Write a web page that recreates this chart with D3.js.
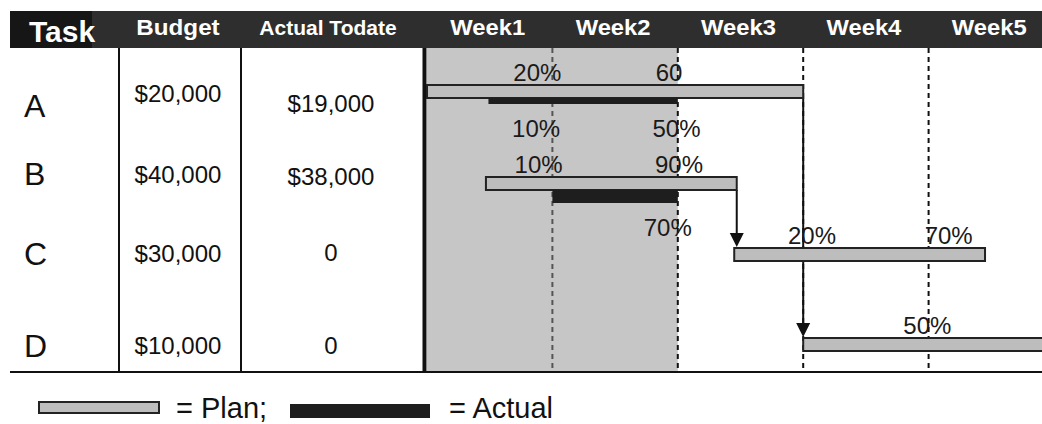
<!DOCTYPE html>
<html>
<head>
<meta charset="utf-8">
<script src="https://cdn.jsdelivr.net/npm/d3@7"></script>
<style>
	body { margin: 0; background: #fff; }
	text { font-family: "Liberation Sans", Arial, sans-serif; }
</style>
</head>
<body>
<div id="gantt"></div>
<script>
// table columns
const tasks = ['A', 'B', 'C', 'D'];
const budgets = ['$20,000', '$40,000', '$30,000', '$10,000'];
const actualTodate = ['$19,000', '$38,000', '0', '0'];
const weeks = ['Week1', 'Week2', 'Week3', 'Week4', 'Week5'];

// schedule, in weeks from the start
const planStart = [0, 0.47, 2.45, 3];
const planEnd = [3, 2.47, 4.45, 5];
const actualStart = [0.49, 1, null, null];
const actualEnd = [2, 2, null, null];
const today = 2;

// dependencies: task -> task it feeds
const links = [['A', 'D'], ['B', 'C']];

// percent complete labels (week where the label sits)
const pctTask = ['A', 'A', 'A', 'A', 'B', 'B', 'B', 'C', 'C', 'D'];
const pctKind = ['plan', 'plan', 'actual', 'actual', 'plan', 'plan', 'actual', 'plan', 'plan', 'plan'];
const pctWeek = [0.88, 1.93, 0.87, 1.99, 0.89, 2.01, 1.92, 3.07, 4.16, 3.99];
const pctText = ['20%', '60', '10%', '50%', '10%', '90%', '70%', '20%', '70%', '50%'];

const W = 1042, H = 424;
const gridTop = 48, gridBottom = 372;

const svg = d3.select('#gantt').append('svg')
	.attr('width', W)
	.attr('height', H);

const x = d3.scaleLinear().domain([0, 5]).range([427, 1054]);

// rows are not evenly spaced in the original
const barTop = d3.scaleOrdinal().domain(tasks).range([85, 177, 248, 338]);
const actualH = d3.scaleOrdinal().domain(tasks).range([6, 13, 0, 0]);
const labelY = d3.scaleOrdinal().domain(tasks).range([117, 185, 265, 357]);
const budgetY = d3.scaleOrdinal().domain(tasks).range([102, 183, 262, 354]);
const actualY = d3.scaleOrdinal().domain(tasks).range([112, 185, 261, 354]);
const barH = 13;

const planFill = '#bdbdbd';

// the scanned header type is a little wider than Arial
function widen(sel, k) {
	sel.each(function() {
		this.setAttribute('textLength', this.getComputedTextLength() * k);
		this.setAttribute('lengthAdjust', 'spacingAndGlyphs');
	});
}

// shaded elapsed period
svg.append('rect')
	.attr('x', x(0))
	.attr('y', gridTop)
	.attr('width', x(today) - x(0))
	.attr('height', gridBottom - gridTop)
	.attr('fill', '#c6c6c6');

// week grid
svg.append('g')
	.selectAll('line')
	.data(d3.range(1, 5))
	.join('line')
	.attr('x1', d => x(d))
	.attr('x2', d => x(d))
	.attr('y1', gridTop)
	.attr('y2', gridBottom)
	.attr('stroke', d => d < today ? '#555' : '#111')
	.attr('stroke-width', 2)
	.attr('stroke-dasharray', '5,4');

// header bar
svg.append('rect')
	.attr('x', 10).attr('y', 11)
	.attr('width', W - 10).attr('height', gridTop - 11)
	.attr('fill', '#2e2e2e');
svg.append('rect')
	.attr('x', 10).attr('y', 11)
	.attr('width', 82).attr('height', gridTop - 11)
	.attr('fill', '#161616');

const header = svg.append('g')
	.attr('fill', '#fff')
	.attr('font-weight', 'bold');
header.append('text')
	.attr('x', 29).attr('y', 42)
	.attr('font-size', 30)
	.text('Task');
header.append('text')
	.attr('x', 178).attr('y', 35)
	.attr('text-anchor', 'middle')
	.attr('font-size', 22)
	.text('Budget')
	.call(widen, 1.1);
header.append('text')
	.attr('x', 328).attr('y', 35)
	.attr('text-anchor', 'middle')
	.attr('font-size', 21)
	.text('Actual Todate');
header.selectAll('.week')
	.data(weeks)
	.join('text')
	.attr('class', 'week')
	.attr('x', (d, i) => x(i + 0.5) - 2)
	.attr('y', 35)
	.attr('text-anchor', 'middle')
	.attr('font-size', 22)
	.text(d => d)
	.call(widen, 1.08);

// table lines
const rules = svg.append('g').attr('stroke', '#111');
[119, 241].forEach(cx => {
	rules.append('line')
		.attr('x1', cx).attr('x2', cx)
		.attr('y1', gridTop).attr('y2', gridBottom)
		.attr('stroke-width', 2);
});
rules.append('line')
	.attr('x1', 424.5).attr('x2', 424.5)
	.attr('y1', gridTop).attr('y2', gridBottom)
	.attr('stroke-width', 4);
rules.append('line')
	.attr('x1', 10).attr('x2', W)
	.attr('y1', gridBottom).attr('y2', gridBottom)
	.attr('stroke-width', 2);

// table cells
const cells = svg.append('g').attr('fill', '#111');
cells.selectAll('.task')
	.data(tasks)
	.join('text')
	.attr('class', 'task')
	.attr('x', 24)
	.attr('y', d => labelY(d))
	.attr('font-size', 32)
	.text(d => d);
cells.selectAll('.budget')
	.data(budgets)
	.join('text')
	.attr('class', 'budget')
	.attr('x', 178)
	.attr('y', (d, i) => budgetY(tasks[i]))
	.attr('text-anchor', 'middle')
	.attr('font-size', 24)
	.text(d => d);
cells.selectAll('.actual')
	.data(actualTodate)
	.join('text')
	.attr('class', 'actual')
	.attr('x', 331)
	.attr('y', (d, i) => actualY(tasks[i]))
	.attr('text-anchor', 'middle')
	.attr('font-size', 24)
	.text(d => d);

// dependency arrows
const arrows = svg.append('g').attr('stroke', '#111').attr('fill', '#111');
links.forEach(([from, to]) => {
	const i = tasks.indexOf(from);
	const ax = x(planEnd[i]);
	const y0 = barTop(from) + barH;
	const y1 = barTop(to) - 1;
	arrows.append('line')
		.attr('x1', ax).attr('x2', ax)
		.attr('y1', y0).attr('y2', y1 - 10)
		.attr('stroke-width', 2);
	arrows.append('path')
		.attr('stroke', 'none')
		.attr('d', `M${ax - 7},${y1 - 14}L${ax + 7},${y1 - 14}L${ax},${y1}Z`);
});

// plan bars
svg.append('g')
	.selectAll('rect')
	.data(tasks)
	.join('rect')
	.attr('x', (d, i) => x(planStart[i]))
	.attr('y', d => barTop(d))
	.attr('width', (d, i) => x(planEnd[i]) - x(planStart[i]))
	.attr('height', barH)
	.attr('fill', planFill)
	.attr('stroke', '#222')
	.attr('stroke-width', 2);

// actual bars
svg.append('g')
	.selectAll('rect')
	.data(tasks.filter((d, i) => actualStart[i] !== null))
	.join('rect')
	.attr('x', d => x(actualStart[tasks.indexOf(d)]))
	.attr('y', d => barTop(d) + barH)
	.attr('width', d => x(actualEnd[tasks.indexOf(d)]) - x(actualStart[tasks.indexOf(d)]))
	.attr('height', d => actualH(d))
	.attr('fill', '#1e1e1e');

// percent labels
svg.append('g')
	.attr('fill', '#1a1a1a')
	.selectAll('text')
	.data(pctText)
	.join('text')
	.attr('x', (d, i) => x(pctWeek[i]))
	.attr('y', (d, i) => {
		const t = pctTask[i];
		return pctKind[i] === 'plan'
			? barTop(t) - 4
			: barTop(t) + barH + actualH(t) + 33;
	})
	.attr('text-anchor', 'middle')
	.attr('font-size', 24)
	.text(d => d);

// legend
const legend = svg.append('g');
legend.append('rect')
	.attr('x', 39).attr('y', 402)
	.attr('width', 120).attr('height', 11)
	.attr('fill', planFill)
	.attr('stroke', '#222')
	.attr('stroke-width', 2);
legend.append('text')
	.attr('x', 176).attr('y', 418)
	.attr('font-size', 29)
	.attr('fill', '#111')
	.text('= Plan;');
legend.append('rect')
	.attr('x', 290).attr('y', 404)
	.attr('width', 140).attr('height', 14)
	.attr('fill', '#1e1e1e');
legend.append('text')
	.attr('x', 449).attr('y', 418)
	.attr('font-size', 29)
	.attr('fill', '#111')
	.text('= Actual');
</script>
</body>
</html>
